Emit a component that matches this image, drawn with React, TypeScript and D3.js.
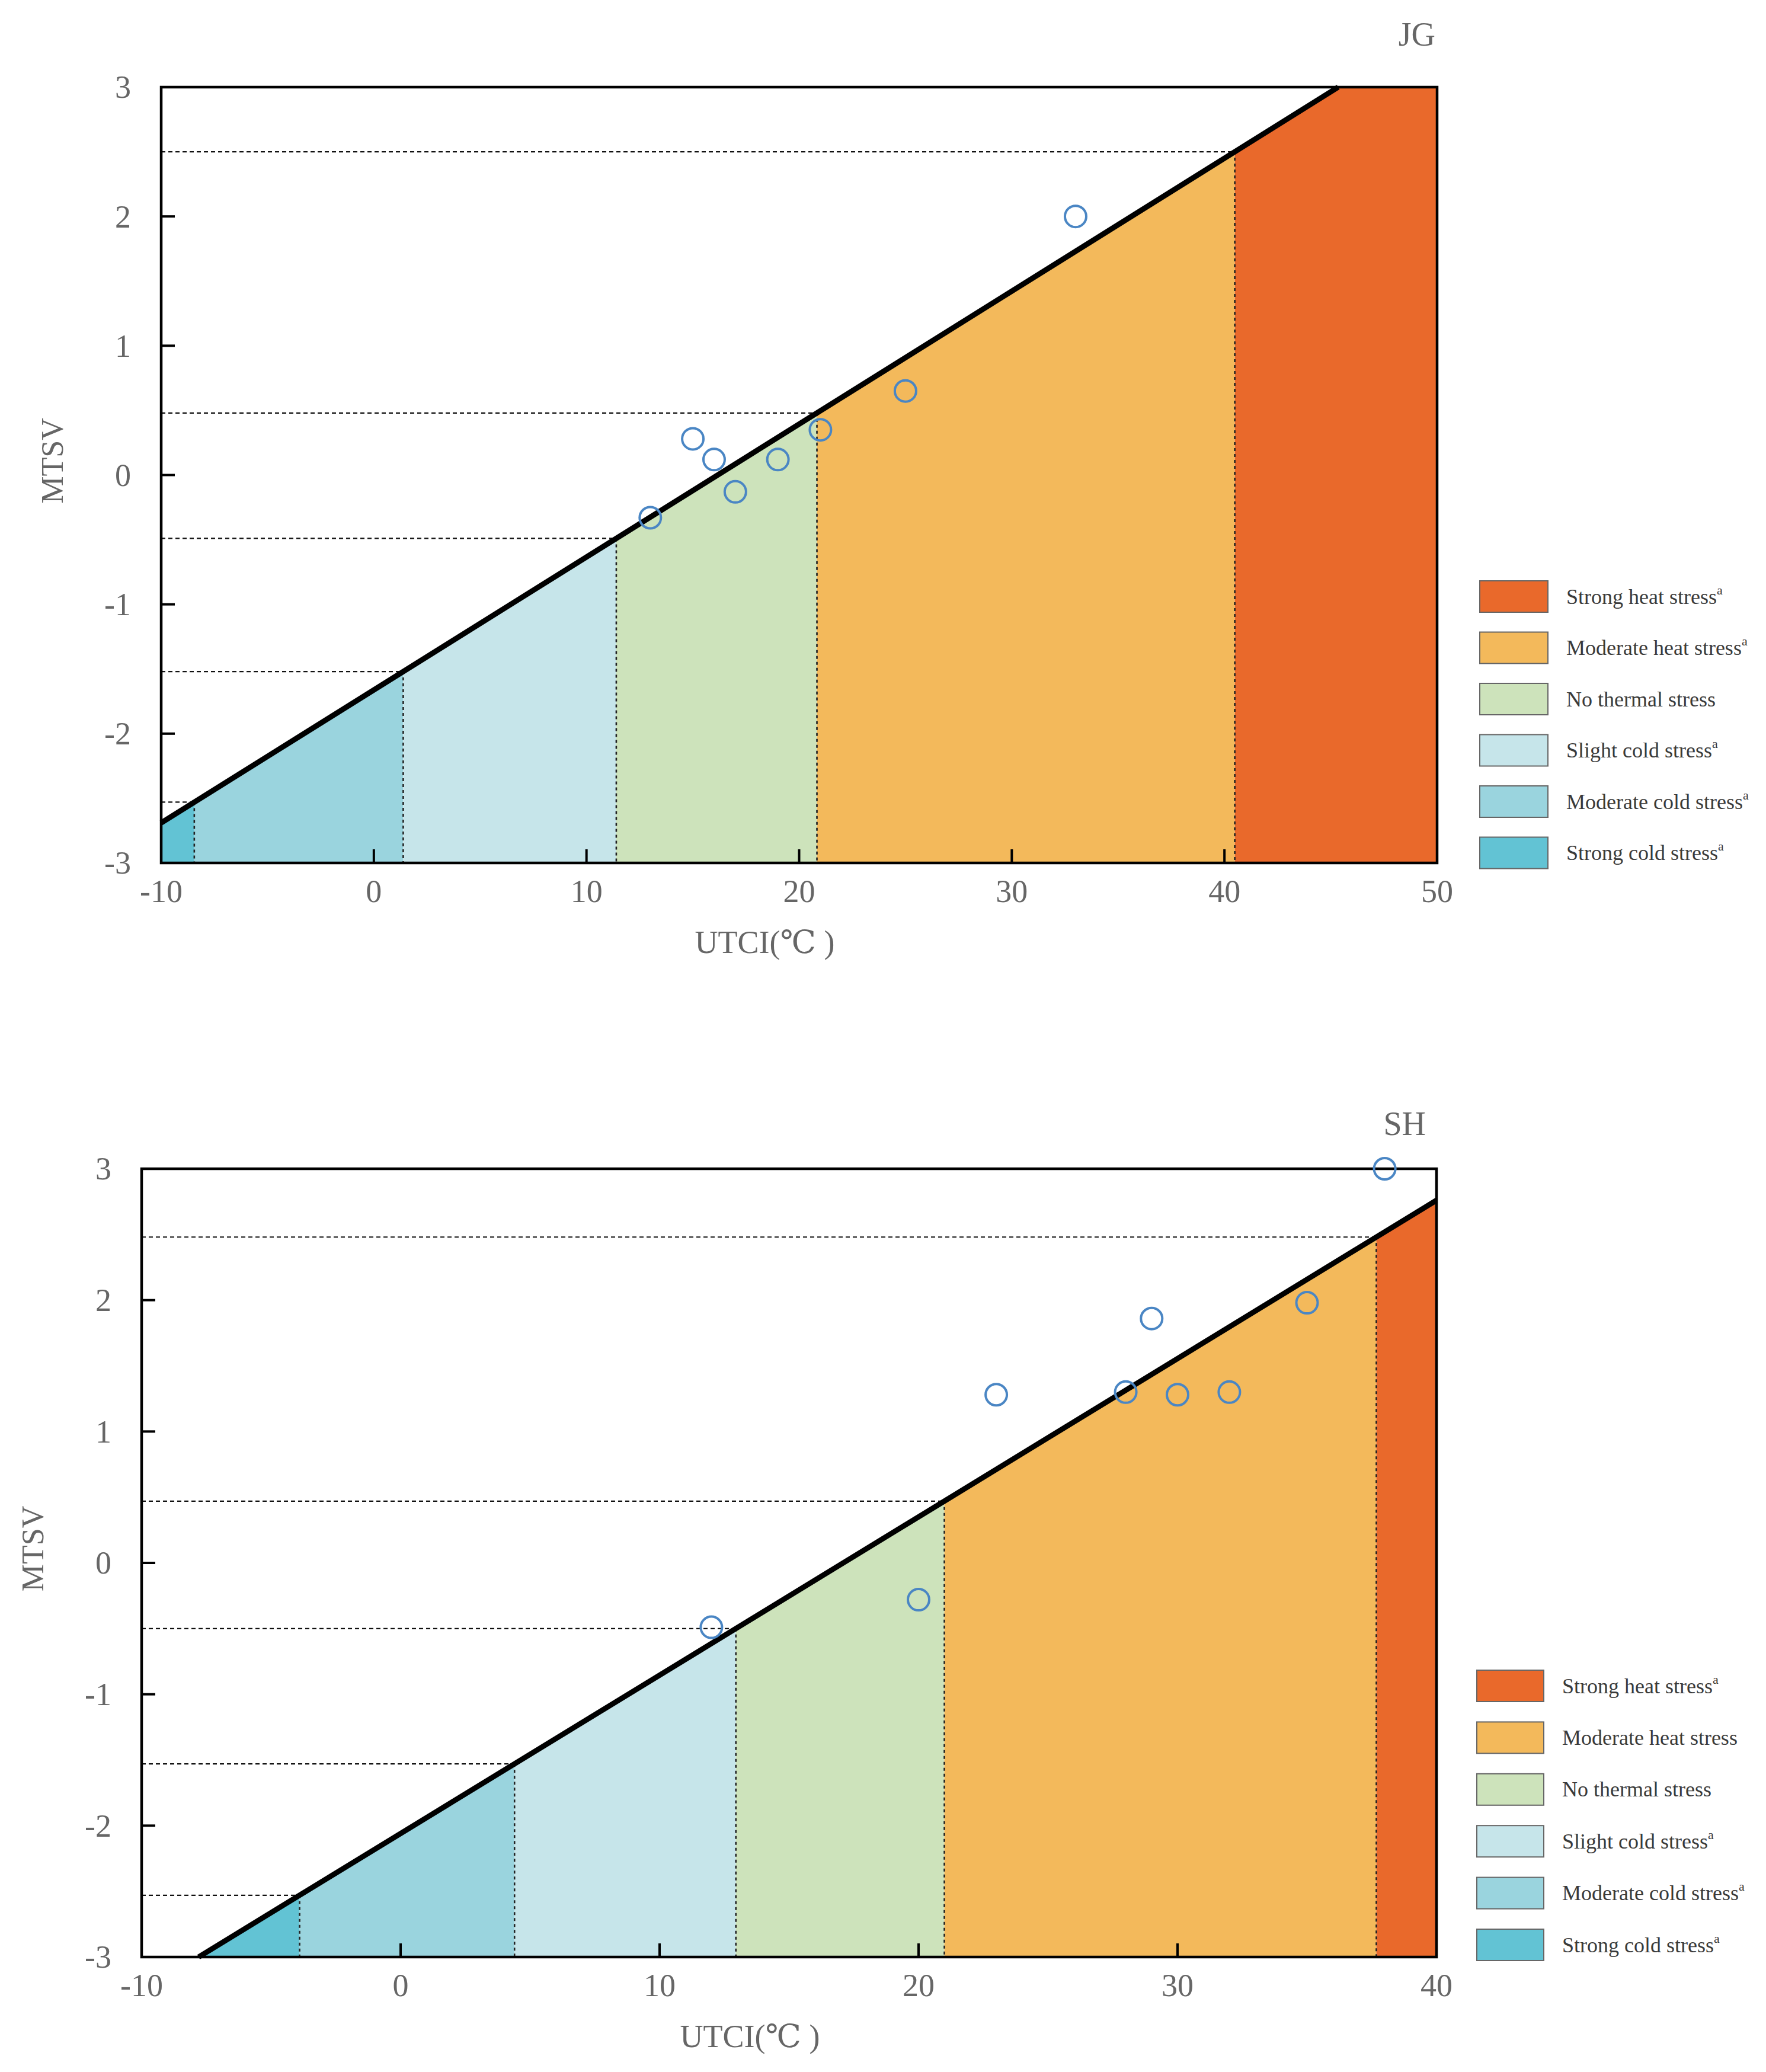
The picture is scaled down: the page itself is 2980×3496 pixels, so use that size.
import { useEffect, useRef } from "react";
import * as d3 from "d3";

// Thermal stress categories, cold → hot
const ZONE_LABELS = [
  "Strong cold stress",
  "Moderate cold stress",
  "Slight cold stress",
  "No thermal stress",
  "Moderate heat stress",
  "Strong heat stress",
];
const ZONE_COLORS = ["#62c3d4", "#9ad4de", "#c6e5ea", "#cde3bb", "#f3b95b", "#e9692b"];

const Y_TICKS = [-3, -2, -1, 0, 1, 2, 3];

// JG panel
const JG_X_TICKS = [-10, 0, 10, 20, 30, 40, 50];
const JG_SLOPE = 0.1028;
const JG_INTERCEPT = -1.662;
const JG_THRESHOLDS = [-2.53, -1.52, -0.49, 0.48, 2.5];
const JG_UTCI = [13, 15, 16, 17, 19, 21, 25, 33];
const JG_MTSV = [-0.33, 0.28, 0.12, -0.13, 0.12, 0.35, 0.65, 2.0];
const JG_SUPERSCRIPT = [true, true, true, false, true, true]; // cold → hot

// SH panel
const SH_X_TICKS = [-10, 0, 10, 20, 30, 40];
const SH_SLOPE = 0.1205;
const SH_INTERCEPT = -2.06;
const SH_THRESHOLDS = [-2.53, -1.53, -0.5, 0.47, 2.48];
const SH_UTCI = [12, 20, 23, 28, 29, 30, 32, 35, 38];
const SH_MTSV = [-0.49, -0.28, 1.28, 1.3, 1.86, 1.28, 1.3, 1.98, 3.0];
const SH_SUPERSCRIPT = [true, true, true, false, false, true];

const FONT = "'Liberation Serif', 'DejaVu Serif', serif";
const W = 2980;
const H = 3496;

interface Panel {
  name: string;
  xTicks: number[];
  slope: number;
  intercept: number;
  thresholds: number[];
  utci: number[];
  mtsv: number[];
  sup: boolean[];
  box: { left: number; right: number; top: number; bottom: number };
  legend: { x: number; top: number; step: number; w: number; h: number };
  nameDx: number;
  nameDy: number;
  xTitleDx: number;
}

const PANELS: Panel[] = [
  {
    name: "JG",
    xTicks: JG_X_TICKS,
    slope: JG_SLOPE,
    intercept: JG_INTERCEPT,
    thresholds: JG_THRESHOLDS,
    utci: JG_UTCI,
    mtsv: JG_MTSV,
    sup: JG_SUPERSCRIPT,
    box: { left: 272, right: 2425, top: 147, bottom: 1456 },
    legend: { x: 2497, top: 980, step: 86.5, w: 115, h: 53 },
    nameDx: -3,
    nameDy: -70,
    xTitleDx: -58,
  },
  {
    name: "SH",
    xTicks: SH_X_TICKS,
    slope: SH_SLOPE,
    intercept: SH_INTERCEPT,
    thresholds: SH_THRESHOLDS,
    utci: SH_UTCI,
    mtsv: SH_MTSV,
    sup: SH_SUPERSCRIPT,
    box: { left: 239, right: 2424, top: 1972, bottom: 3302 },
    legend: { x: 2492, top: 2818, step: 87.4, w: 113, h: 53 },
    nameDx: -18,
    nameDy: -57,
    xTitleDx: -66,
  },
];

function drawPanel(svg: d3.Selection<SVGSVGElement, unknown, null, undefined>, p: Panel) {
  const { left, right, top, bottom } = p.box;
  const xMin = p.xTicks[0];
  const xMax = p.xTicks[p.xTicks.length - 1];
  const x = d3.scaleLinear().domain([xMin, xMax]).range([left, right]);
  const y = d3.scaleLinear().domain([-3, 3]).range([bottom, top]);

  const fit = (u: number) => p.slope * u + p.intercept;
  const inv = (m: number) => (m - p.intercept) / p.slope;
  const clampY = (m: number) => Math.max(-3, Math.min(3, m));

  const xStart = Math.max(xMin, inv(-3));
  const xEnd = Math.min(xMax, inv(3));
  const bounds = [xStart, ...p.thresholds.map(inv), xMax];

  const g = svg.append("g");

  // coloured zones under the fitted line
  const area = d3
    .area<number>()
    .x((d) => x(d))
    .y0(y(-3))
    .y1((d) => y(clampY(fit(d))));

  ZONE_COLORS.forEach((color, i) => {
    const x0 = bounds[i];
    const x1 = bounds[i + 1];
    const pts = [x0];
    if (xEnd > x0 && xEnd < x1) pts.push(xEnd);
    pts.push(x1);
    g.append("path").datum(pts).attr("d", area).attr("fill", color).attr("stroke", "none");
  });

  // horizontal dashed guides (axis → line)
  p.thresholds.forEach((t) => {
    g.append("line")
      .attr("x1", left)
      .attr("x2", x(inv(t)))
      .attr("y1", y(t))
      .attr("y2", y(t))
      .attr("stroke", "#111")
      .attr("stroke-width", 2.2)
      .attr("stroke-dasharray", "7 5");
  });

  // vertical dotted boundaries (line → axis)
  p.thresholds.forEach((t) => {
    g.append("line")
      .attr("x1", x(inv(t)))
      .attr("x2", x(inv(t)))
      .attr("y1", y(t))
      .attr("y2", bottom)
      .attr("stroke", "#222")
      .attr("stroke-width", 2.6)
      .attr("stroke-dasharray", "5 5");
  });

  // fitted line
  g.append("path")
    .datum([xStart, xEnd])
    .attr(
      "d",
      d3
        .line<number>()
        .x((d) => x(d))
        .y((d) => y(fit(d))),
    )
    .attr("fill", "none")
    .attr("stroke", "#000")
    .attr("stroke-width", 9);

  // frame
  g.append("rect")
    .attr("x", left)
    .attr("y", top)
    .attr("width", right - left)
    .attr("height", bottom - top)
    .attr("fill", "none")
    .attr("stroke", "#000")
    .attr("stroke-width", 4.5);

  // inward ticks
  p.xTicks.forEach((t) => {
    g.append("line")
      .attr("x1", x(t))
      .attr("x2", x(t))
      .attr("y1", bottom)
      .attr("y2", bottom - 23)
      .attr("stroke", "#000")
      .attr("stroke-width", 4);
  });
  Y_TICKS.forEach((t) => {
    g.append("line")
      .attr("x1", left)
      .attr("x2", left + 23)
      .attr("y1", y(t))
      .attr("y2", y(t))
      .attr("stroke", "#000")
      .attr("stroke-width", 4);
  });

  // tick labels
  g.append("g")
    .selectAll("text")
    .data(p.xTicks)
    .enter()
    .append("text")
    .attr("x", (d) => x(d))
    .attr("y", bottom + 66)
    .attr("text-anchor", "middle")
    .attr("font-family", FONT)
    .attr("font-size", 54)
    .attr("fill", "#666")
    .text((d) => String(d));

  g.append("g")
    .selectAll("text")
    .data(Y_TICKS)
    .enter()
    .append("text")
    .attr("x", left - 51)
    .attr("y", (d) => y(d))
    .attr("dy", "0.34em")
    .attr("text-anchor", "end")
    .attr("font-family", FONT)
    .attr("font-size", 54)
    .attr("fill", "#666")
    .text((d) => String(d));

  // axis titles
  g.append("text")
    .attr("x", (left + right) / 2 + p.xTitleDx)
    .attr("y", bottom + 152)
    .attr("text-anchor", "middle")
    .attr("font-family", FONT)
    .attr("font-size", 54)
    .attr("fill", "#666")
    .text("UTCI(℃ )");

  g.append("text")
    .attr("transform", `translate(${left - 166},${(top + bottom) / 2 - 24}) rotate(-90)`)
    .attr("text-anchor", "middle")
    .attr("font-family", FONT)
    .attr("font-size", 52)
    .attr("fill", "#666")
    .text("MTSV");

  // panel name
  g.append("text")
    .attr("x", right + p.nameDx)
    .attr("y", top + p.nameDy)
    .attr("text-anchor", "end")
    .attr("font-family", FONT)
    .attr("font-size", 56)
    .attr("fill", "#666")
    .text(p.name);

  // observed points
  g.append("g")
    .selectAll("circle")
    .data(p.utci.map((u, i) => [u, p.mtsv[i]]))
    .enter()
    .append("circle")
    .attr("cx", (d) => x(d[0]))
    .attr("cy", (d) => y(d[1]))
    .attr("r", 18)
    .attr("fill", "none")
    .attr("stroke", "#4a86c4")
    .attr("stroke-width", 4);

  // legend, hot → cold
  const L = p.legend;
  const order = d3.range(ZONE_LABELS.length).reverse();
  order.forEach((zi, row) => {
    const ty = L.top + row * L.step;
    g.append("rect")
      .attr("x", L.x)
      .attr("y", ty)
      .attr("width", L.w)
      .attr("height", L.h)
      .attr("fill", ZONE_COLORS[zi])
      .attr("stroke", "#666")
      .attr("stroke-width", 2);
    const txt = g
      .append("text")
      .attr("x", L.x + L.w + 31)
      .attr("y", ty + L.h / 2 + 12)
      .attr("font-family", FONT)
      .attr("font-size", 36)
      .attr("fill", "#3a3a3a");
    txt.append("tspan").text(ZONE_LABELS[zi]);
    if (p.sup[zi]) {
      txt.append("tspan").attr("dy", -16).attr("font-size", 22).text("a");
    }
  });
}

export default function App() {
  const svgRef = useRef<SVGSVGElement>(null);

  useEffect(() => {
    document.body.style.margin = "0";
    const el = svgRef.current;
    if (!el) return;
    const svg = d3.select(el);
    svg.selectAll("*").remove();
    svg.append("rect").attr("width", W).attr("height", H).attr("fill", "#fff");
    PANELS.forEach((p) => drawPanel(svg, p));
  }, []);

  return <svg ref={svgRef} width={W} height={H} style={{ display: "block" }} />;
}
